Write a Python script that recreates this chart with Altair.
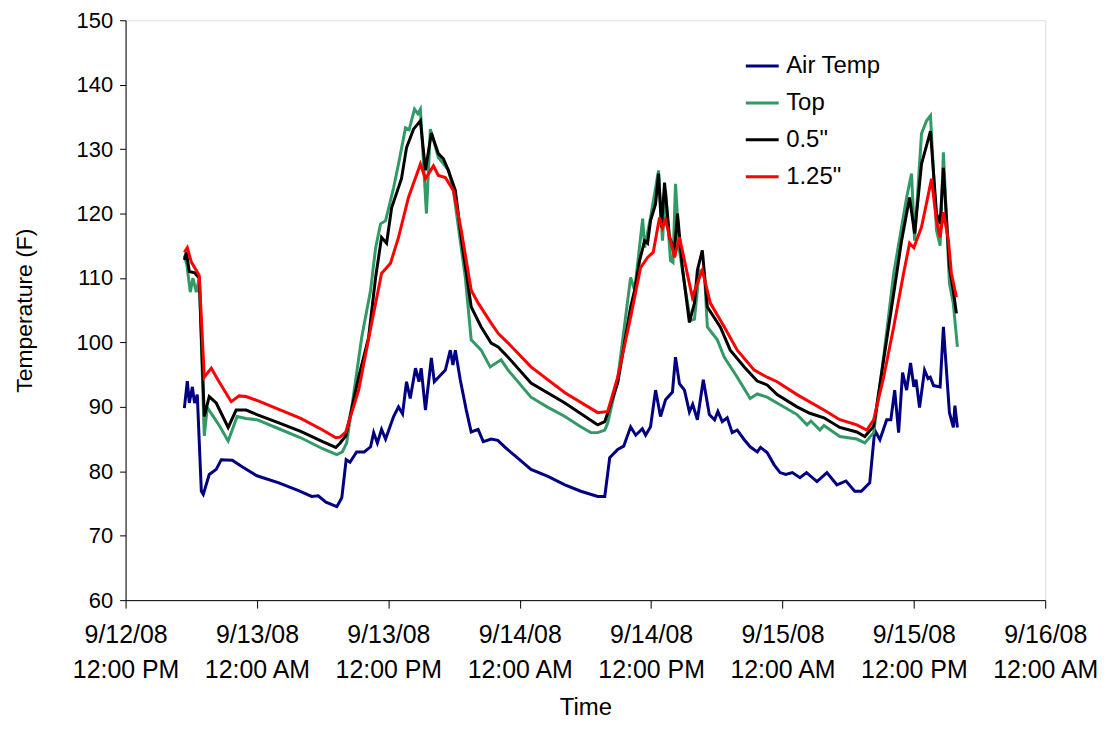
import altair as alt
import pandas as pd

# hours after 9/12/08 12:00 PM, temperature (F)
air_temp = [(5.37, 89.8), (5.64, 94.0), (5.82, 90.6), (6.10, 93.1), (6.30, 90.6), (6.55, 91.9),
            (6.92, 76.9), (7.10, 76.4), (7.64, 79.5), (8.28, 80.3), (8.74, 81.8), (9.74, 81.7),
            (10.65, 80.7), (12.0, 79.3), (14.0, 78.2), (15.8, 77.0), (17.0, 76.1), (17.6, 76.2),
            (18.3, 75.2), (19.3, 74.5), (19.75, 75.9), (20.15, 81.8), (20.5, 81.4), (21.1, 83.0),
            (21.8, 83.0), (22.38, 83.8), (22.66, 86.0), (23.0, 84.4), (23.38, 86.5), (23.75, 85.0),
            (24.48, 88.5), (24.93, 90.0), (25.3, 88.9), (25.66, 93.9), (26.0, 91.3), (26.48, 96.0),
            (26.8, 93.9), (27.0, 96.0), (27.39, 89.5), (27.93, 97.6), (28.2, 93.9), (29.21, 95.7),
            (29.66, 98.8), (29.9, 96.5), (30.12, 98.8), (30.57, 94.2), (31.12, 89.5), (31.57, 86.1),
            (32.2, 86.5), (32.67, 84.6), (33.39, 85.0), (34.0, 84.8), (34.67, 83.7), (35.5, 82.5),
            (36.2, 81.5), (37.03, 80.3), (38.58, 79.2), (40.13, 77.9), (41.58, 76.9), (43.13, 76.1),
            (43.77, 76.1), (44.22, 82.1), (44.95, 83.4), (45.5, 83.9), (46.13, 86.9), (46.6, 85.6),
            (47.2, 86.6), (47.5, 85.6), (47.95, 86.9), (48.41, 92.6), (48.86, 88.5), (49.32, 91.1),
            (49.95, 92.3), (50.23, 97.7), (50.59, 93.6), (51.05, 92.6), (51.50, 89.2), (51.8, 90.4),
            (52.23, 88.0), (52.77, 94.2), (53.32, 88.8), (53.8, 88.0), (54.1, 89.3), (54.5, 87.7),
            (54.95, 88.3), (55.41, 86.0), (55.87, 86.4), (56.51, 84.9), (57.05, 83.8), (57.7, 83.0),
            (58.0, 83.7), (58.6, 82.9), (59.24, 81.0), (59.78, 79.8), (60.3, 79.5), (60.9, 79.8),
            (61.6, 79.0), (62.2, 79.8), (63.15, 78.4), (64.06, 79.8), (64.97, 77.9), (65.8, 78.5),
            (66.6, 76.9), (67.2, 76.9), (67.97, 78.2), (68.43, 86.4), (68.9, 84.9), (69.52, 88.0),
            (69.9, 88.0), (70.25, 92.6), (70.61, 86.0), (70.97, 95.3), (71.34, 92.6), (71.70, 96.8),
            (72.0, 93.1), (72.2, 94.2), (72.52, 89.9), (72.98, 95.7), (73.3, 94.4), (73.5, 94.6),
            (73.8, 93.3), (74.4, 93.1), (74.70, 102.4), (75.25, 89.1), (75.61, 86.8), (75.75, 90.2),
            (75.98, 86.8)]

top = [(5.37, 113.5), (5.6, 112.0), (5.91, 107.8), (6.15, 110.0), (6.46, 107.8), (6.73, 110.0),
       (7.19, 85.5), (7.46, 89.9), (8.10, 88.3), (8.6, 87.0), (9.37, 84.7), (10.19, 88.5),
       (11.0, 88.2), (12.0, 88.0), (14.0, 86.6), (16.0, 85.2), (18.0, 83.5), (19.29, 82.6),
       (19.8, 83.0), (20.2, 84.4), (21.57, 100.8), (22.38, 108.1), (22.84, 114.7), (23.29, 118.4),
       (23.75, 118.9), (24.48, 124.0), (24.93, 127.7), (25.57, 133.3), (25.9, 133.0), (26.39, 136.2),
       (26.7, 135.5), (26.93, 136.2), (27.48, 120.0), (27.84, 133.1), (28.57, 128.7), (29.48, 126.8),
       (29.94, 123.6), (31.03, 110.1), (31.57, 100.4), (32.48, 98.8), (33.30, 96.2), (34.30, 97.3),
       (34.94, 95.7), (37.03, 91.5), (38.5, 90.0), (40.13, 88.5), (41.5, 87.0), (42.49, 86.0),
       (43.13, 86.0), (43.77, 86.4), (44.04, 87.5), (44.95, 94.3), (46.13, 110.1), (46.50, 108.1),
       (47.23, 119.2), (47.41, 114.7), (47.95, 119.4), (48.68, 126.7), (49.04, 115.8), (49.32, 123.6),
       (49.77, 112.7), (50.0, 112.4), (50.23, 124.6), (50.59, 114.3), (51.14, 108.1), (51.59, 103.4),
       (51.96, 103.6), (52.41, 111.2), (52.87, 110.7), (53.14, 102.4), (54.05, 100.4), (54.69, 97.7),
       (55.87, 94.6), (57.05, 91.3), (57.7, 92.0), (58.6, 91.5), (59.51, 90.6), (61.33, 88.8),
       (62.24, 87.2), (62.6, 87.8), (63.42, 86.4), (63.79, 87.1), (65.24, 85.4), (66.79, 85.0),
       (67.52, 84.4), (68.33, 86.0), (69.24, 97.7), (70.16, 110.7), (71.34, 122.5), (71.79, 126.2),
       (72.07, 115.8), (72.70, 132.4), (73.16, 134.4), (73.52, 135.2), (74.07, 117.4), (74.4, 115.0),
       (74.70, 129.5), (75.25, 109.2), (75.6, 106.1), (75.98, 99.3)]

half_inch = [(5.37, 112.8), (5.55, 114.0), (5.82, 111.0), (6.3, 110.8), (6.73, 110.0), (7.19, 88.5),
             (7.64, 91.6), (8.28, 90.6), (9.37, 86.8), (10.10, 89.5), (11.01, 89.5), (12.0, 88.8),
             (14.0, 87.5), (16.0, 86.2), (18.0, 84.6), (19.2, 83.7), (19.6, 84.4), (20.11, 85.5),
             (21.29, 94.6), (22.20, 100.8), (22.84, 110.1), (23.38, 116.3), (23.84, 115.4), (24.30, 120.9),
             (25.20, 125.4), (25.66, 130.2), (26.30, 133.1), (26.93, 134.4), (27.39, 126.7), (27.93, 132.5),
             (28.57, 129.3), (29.03, 128.5), (29.48, 126.7), (30.12, 123.6), (30.66, 116.3), (31.57, 105.5),
             (32.48, 102.4), (33.39, 99.9), (34.03, 99.3), (34.94, 97.7), (37.03, 93.7), (40.13, 90.6),
             (42.86, 87.5), (43.13, 87.2), (43.77, 87.7), (44.95, 93.7), (46.13, 105.5), (46.50, 108.1),
             (46.95, 112.7), (47.41, 115.8), (47.68, 115.4), (47.95, 118.9), (48.41, 121.5), (48.68, 126.2),
             (48.95, 117.9), (49.23, 124.8), (49.68, 116.3), (50.14, 114.3), (50.41, 120.0), (50.86, 111.6),
             (51.50, 103.1), (51.96, 106.1), (52.23, 111.2), (52.68, 114.3), (53.14, 105.5), (54.32, 102.4),
             (55.23, 98.8), (56.51, 96.2), (57.69, 94.0), (58.60, 93.4), (59.51, 91.9), (61.33, 90.0),
             (62.5, 89.0), (63.79, 88.3), (65.24, 86.8), (66.79, 86.1), (67.52, 85.4), (68.33, 87.0),
             (69.24, 97.3), (70.16, 107.6), (70.88, 115.8), (71.61, 122.5), (72.07, 116.9), (72.70, 127.7),
             (73.52, 132.8), (74.07, 120.0), (74.4, 118.4), (74.70, 127.1), (75.25, 111.7), (75.6, 108.1),
             (75.89, 104.5)]

one_quarter_inch = [(5.37, 114.0), (5.64, 114.7), (6.0, 112.5), (6.73, 110.4), (7.19, 94.6), (7.83, 96.0),
                    (8.5, 94.0), (9.65, 90.8), (10.37, 91.7), (11.0, 91.6), (12.0, 91.0), (14.0, 89.6),
                    (16.0, 88.2), (18.0, 86.4), (19.2, 85.2), (19.6, 85.3), (20.11, 86.1), (21.29, 92.6),
                    (22.48, 103.0), (23.38, 110.7), (24.20, 112.3), (24.93, 116.3), (25.84, 122.5), (26.93, 127.7),
                    (27.39, 125.4), (28.12, 127.4), (28.57, 125.9), (29.21, 125.6), (29.94, 123.6), (30.66, 117.4),
                    (31.57, 108.1), (32.21, 106.1), (33.39, 103.0), (34.03, 101.4), (34.94, 99.9), (37.03, 96.2),
                    (40.13, 92.2), (43.13, 89.1), (44.04, 89.3), (44.95, 94.6), (46.13, 103.9), (47.04, 111.6),
                    (47.68, 113.2), (48.2, 114.0), (48.77, 119.4), (49.04, 117.8), (49.32, 119.0), (50.14, 113.2),
                    (50.59, 116.3), (51.05, 112.7), (51.77, 107.0), (52.23, 109.2), (52.68, 111.2), (53.41, 106.1),
                    (54.69, 102.4), (55.87, 98.8), (57.42, 95.7), (58.60, 94.6), (59.51, 93.9), (61.33, 91.9),
                    (63.79, 89.5), (65.24, 88.0), (66.79, 87.2), (67.70, 86.4), (68.33, 88.0), (69.24, 94.6),
                    (70.16, 102.4), (71.06, 110.7), (71.61, 115.4), (72.0, 114.7), (72.70, 117.9), (73.34, 123.1),
                    (73.61, 125.4), (74.07, 118.9), (74.4, 116.3), (74.70, 120.2), (75.16, 115.8), (75.43, 110.7),
                    (75.89, 107.0)]

series_names = ["Air Temp", "Top", '0.5"', '1.25"']
series_colors = ["#000080", "#339966", "#000000", "#FF0000"]

tick_hours = [0, 12, 24, 36, 48, 60, 72, 84]
tick_dates = ["9/12/08", "9/13/08", "9/13/08", "9/14/08", "9/14/08", "9/15/08", "9/15/08", "9/16/08"]
tick_times = ["12:00 PM", "12:00 AM", "12:00 PM", "12:00 AM", "12:00 PM", "12:00 AM", "12:00 PM", "12:00 AM"]
y_ticks = [60, 70, 80, 90, 100, 110, 120, 130, 140, 150]

rows = []
for name, pts in zip(series_names, [air_temp, top, half_inch, one_quarter_inch]):
    for i, (h, v) in enumerate(pts):
        rows.append({"hours": h, "temp": v, "series": name, "idx": i})
df = pd.DataFrame(rows)

label_expr = "[" + ",".join(f"['{d}','{t}']" for d, t in zip(tick_dates, tick_times)) + "][round(datum.value / 12)]"

FONT = "Liberation Sans"

x_enc = alt.X("hours:Q",
              scale=alt.Scale(domain=[0, 84], nice=False, zero=False),
              axis=alt.Axis(values=tick_hours, labelExpr=label_expr, title="Time",
                            grid=False, tickSize=8, labelPadding=15, labelFontSize=25,
                            labelLineHeight=35, labelFont=FONT, titleFont=FONT,
                            titleFontSize=24, titleFontWeight="normal", titlePadding=13,
                            labelColor="black", titleColor="black", domainColor="black",
                            tickColor="black", labelFlush=False, labelOverlap=False))
y_enc = alt.Y("temp:Q",
              scale=alt.Scale(domain=[60, 150], nice=False, zero=False),
              axis=alt.Axis(values=y_ticks, title="Temperature (F)", grid=False, tickSize=6,
                            labelPadding=7, labelFontSize=22, labelFont=FONT, titleFont=FONT,
                            titleFontSize=23, titleFontWeight="normal", titlePadding=40,
                            labelColor="black", titleColor="black", domainColor="black",
                            tickColor="black"))
color_enc = alt.Color("series:N",
                      scale=alt.Scale(domain=series_names, range=series_colors),
                      legend=alt.Legend(orient="none", legendX=621, legendY=28, title=None,
                                        symbolType="stroke", symbolSize=1089, symbolStrokeWidth=3,
                                        labelFontSize=24, labelFont=FONT, labelColor="black",
                                        rowPadding=7, labelOffset=6, padding=0))

base = alt.Chart(df)
layers = []
for name in series_names:
    layers.append(
        base.transform_filter(alt.FieldEqualPredicate(field="series", equal=name))
        .mark_line(strokeWidth=3)
        .encode(x=x_enc, y=y_enc, color=color_enc, order="idx:Q")
    )

chart = alt.layer(*layers).properties(
    width=923, height=582,
    autosize=alt.AutoSizeParams(type="none"),
    padding={"left": 118, "top": 11, "right": 62, "bottom": 121},
).configure_view(stroke="black", strokeWidth=1.2).configure(background="white")

chart.save("out.html", embed_options={"renderer": "svg", "actions": False})
